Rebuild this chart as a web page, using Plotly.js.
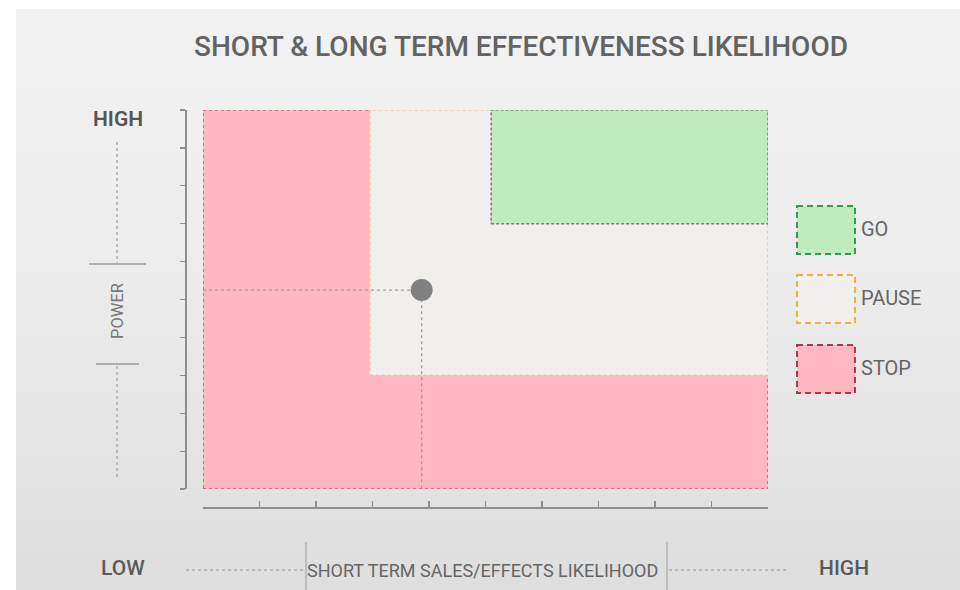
<!DOCTYPE html>
<html>
<head>
<meta charset="utf-8">
<script src="https://cdn.plot.ly/plotly-3.0.1.min.js"></script>
<style>
  html, body { margin:0; padding:0; background:#ffffff; }
  #wrap { position:relative; width:960px; height:590px; background:#ffffff; overflow:hidden; }
  #bg { position:absolute; left:16px; top:9px; right:0; bottom:0;
        background: linear-gradient(to bottom, #f2f2f2 0%, #ececec 45%, #dedede 100%); }
  #chart { position:absolute; left:0; top:0; width:960px; height:590px; }
</style>
</head>
<body>
<div id="wrap"><div id="bg"></div><div id="chart"></div></div>
<script>
// ---- data ----
const zoneNames = ['STOP', 'PAUSE', 'GO'];
const zoneX0 = [0, 2.95, 5.1];
const zoneX1 = [10, 10, 10];
const zoneY0 = [0, 3, 7];
const zoneY1 = [10, 10, 10];
const pointX = [3.87];
const pointY = [5.25];
const titleText = 'SHORT &amp; LONG TERM EFFECTIVENESS LIKELIHOOD';
const yAxisLabels = ['HIGH', 'POWER'];
const xAxisLabels = ['LOW', 'SHORT TERM SALES/EFFECTS LIKELIHOOD', 'HIGH'];

// ---- styles ----
const zoneFill = ['#ffb7c2', '#f0efeb', '#bfecbf'];
const zoneLine = ['#c9607f', '#efc39c', '#808080'];
const zoneDash = ['dot', 'dot', '3px,2px'];
const legendFill = ['#bfecbf', '#f1f0ec', '#ffb7c2'];
const legendLine = ['#2e9c50', '#eeb240', '#b23452'];
const legendNames = ['GO', 'PAUSE', 'STOP'];

const W = 960, H = 590;
const px = v => v / W;
const py = v => 1 - v / H;

const traces = [];
zoneNames.forEach((n, i) => {
  traces.push({
    type: 'scatter', mode: 'lines', name: n,
    x: [zoneX0[i], zoneX1[i], zoneX1[i], zoneX0[i], zoneX0[i]],
    y: [zoneY0[i], zoneY0[i], zoneY1[i], zoneY1[i], zoneY0[i]],
    fill: 'toself', fillcolor: zoneFill[i],
    line: { color: zoneLine[i], width: 1.6, dash: zoneDash[i] },
    hoverinfo: 'skip', showlegend: false
  });
});
// guide lines
traces.push({
  type: 'scatter', mode: 'lines',
  x: [0, pointX[0], pointX[0]], y: [pointY[0], pointY[0], 0],
  line: { color: '#a0a0a0', width: 1.3, dash: 'dot' },
  hoverinfo: 'skip', showlegend: false
});
traces.push({
  type: 'scatter', mode: 'markers',
  x: pointX, y: pointY,
  marker: { size: 22, color: '#808080' },
  showlegend: false
});

const axisCommon = {
  range: [0, 10], dtick: 1, tick0: 0, showticklabels: false,
  showgrid: false, zeroline: false, showline: true,
  linecolor: '#8e8e8e', linewidth: 1.5, tickcolor: '#8e8e8e', tickwidth: 1.2,
  fixedrange: true
};

const shapes = [];
const lineShape = (x0, y0, x1, y1, color, width, dash) => ({
  type: 'line', xref: 'paper', yref: 'paper',
  x0: px(x0), y0: py(y0), x1: px(x1), y1: py(y1),
  line: { color: color, width: width, dash: dash || 'solid' }
});
// y-axis decoration
shapes.push(lineShape(117, 142, 117, 263, '#b0b0b0', 1.5, 'dot'));
shapes.push(lineShape(89, 264, 146, 264, '#9a9a9a', 1.3));
shapes.push(lineShape(96, 364, 139, 364, '#9a9a9a', 1.3));
shapes.push(lineShape(117, 366, 117, 478, '#b0b0b0', 1.5, 'dot'));
// x-axis decoration
shapes.push(lineShape(186, 570, 304, 570, '#b0b0b0', 1.5, 'dot'));
shapes.push(lineShape(669, 570, 786, 570, '#b0b0b0', 1.5, 'dot'));
shapes.push(lineShape(306, 542, 306, 590, '#9a9a9a', 1));
shapes.push(lineShape(667, 542, 667, 590, '#9a9a9a', 1));
// legend boxes
const legTop = [206, 275, 345];
legendNames.forEach((n, i) => {
  shapes.push({
    type: 'rect', xref: 'paper', yref: 'paper',
    x0: px(797), x1: px(855), y0: py(legTop[i]), y1: py(legTop[i] + 48),
    fillcolor: legendFill[i],
    line: { color: legendLine[i], width: 2, dash: '6px,4px' }
  });
});

const font = 'Roboto, "Open Sans", sans-serif';
const annotations = [
  { text: yAxisLabels[0], x: px(118), y: py(119), font: { family: font, size: 21, color: '#555', weight: 600 } },
  { text: yAxisLabels[1], x: px(117), y: py(311), textangle: -90, font: { family: font, size: 16.5, color: '#777' } },
  { text: xAxisLabels[0], x: px(123), y: py(568), font: { family: font, size: 21, color: '#5a5a5a', weight: 500 } },
  { text: xAxisLabels[1], x: px(482), y: py(570), font: { family: font, size: 18, color: '#666' } },
  { text: xAxisLabels[2], x: px(844), y: py(568), font: { family: font, size: 21, color: '#5a5a5a', weight: 500 } }
];
legendNames.forEach((n, i) => {
  annotations.push({ text: n, x: px(859), xanchor: 'left', y: py(legTop[i] + 23),
    font: { family: font, size: 20, color: '#666' } });
});
annotations.forEach(a => {
  a.xref = 'paper'; a.yref = 'paper'; a.showarrow = false;
  if (!a.xanchor) a.xanchor = 'center';
  a.yanchor = 'middle';
});

const layout = {
  width: W, height: H,
  margin: { l: 0, r: 0, t: 0, b: 0 },
  paper_bgcolor: 'rgba(0,0,0,0)', plot_bgcolor: 'rgba(0,0,0,0)',
  title: { text: titleText, x: px(521), xanchor: 'center', y: py(46), yanchor: 'middle',
           font: { family: font, size: 28, color: '#636363', weight: 500 } },
  xaxis: Object.assign({}, axisCommon, {
    domain: [px(203), px(768)], anchor: 'free', position: py(507),
    ticks: 'inside', ticklen: 6
  }),
  yaxis: Object.assign({}, axisCommon, {
    domain: [py(489), py(110)], anchor: 'free', position: px(185),
    ticks: 'outside', ticklen: 5
  }),
  shapes: shapes,
  annotations: annotations,
  showlegend: false,
  hovermode: false
};

Plotly.newPlot('chart', traces, layout, { displayModeBar: false, staticPlot: true });
</script>
</body>
</html>
